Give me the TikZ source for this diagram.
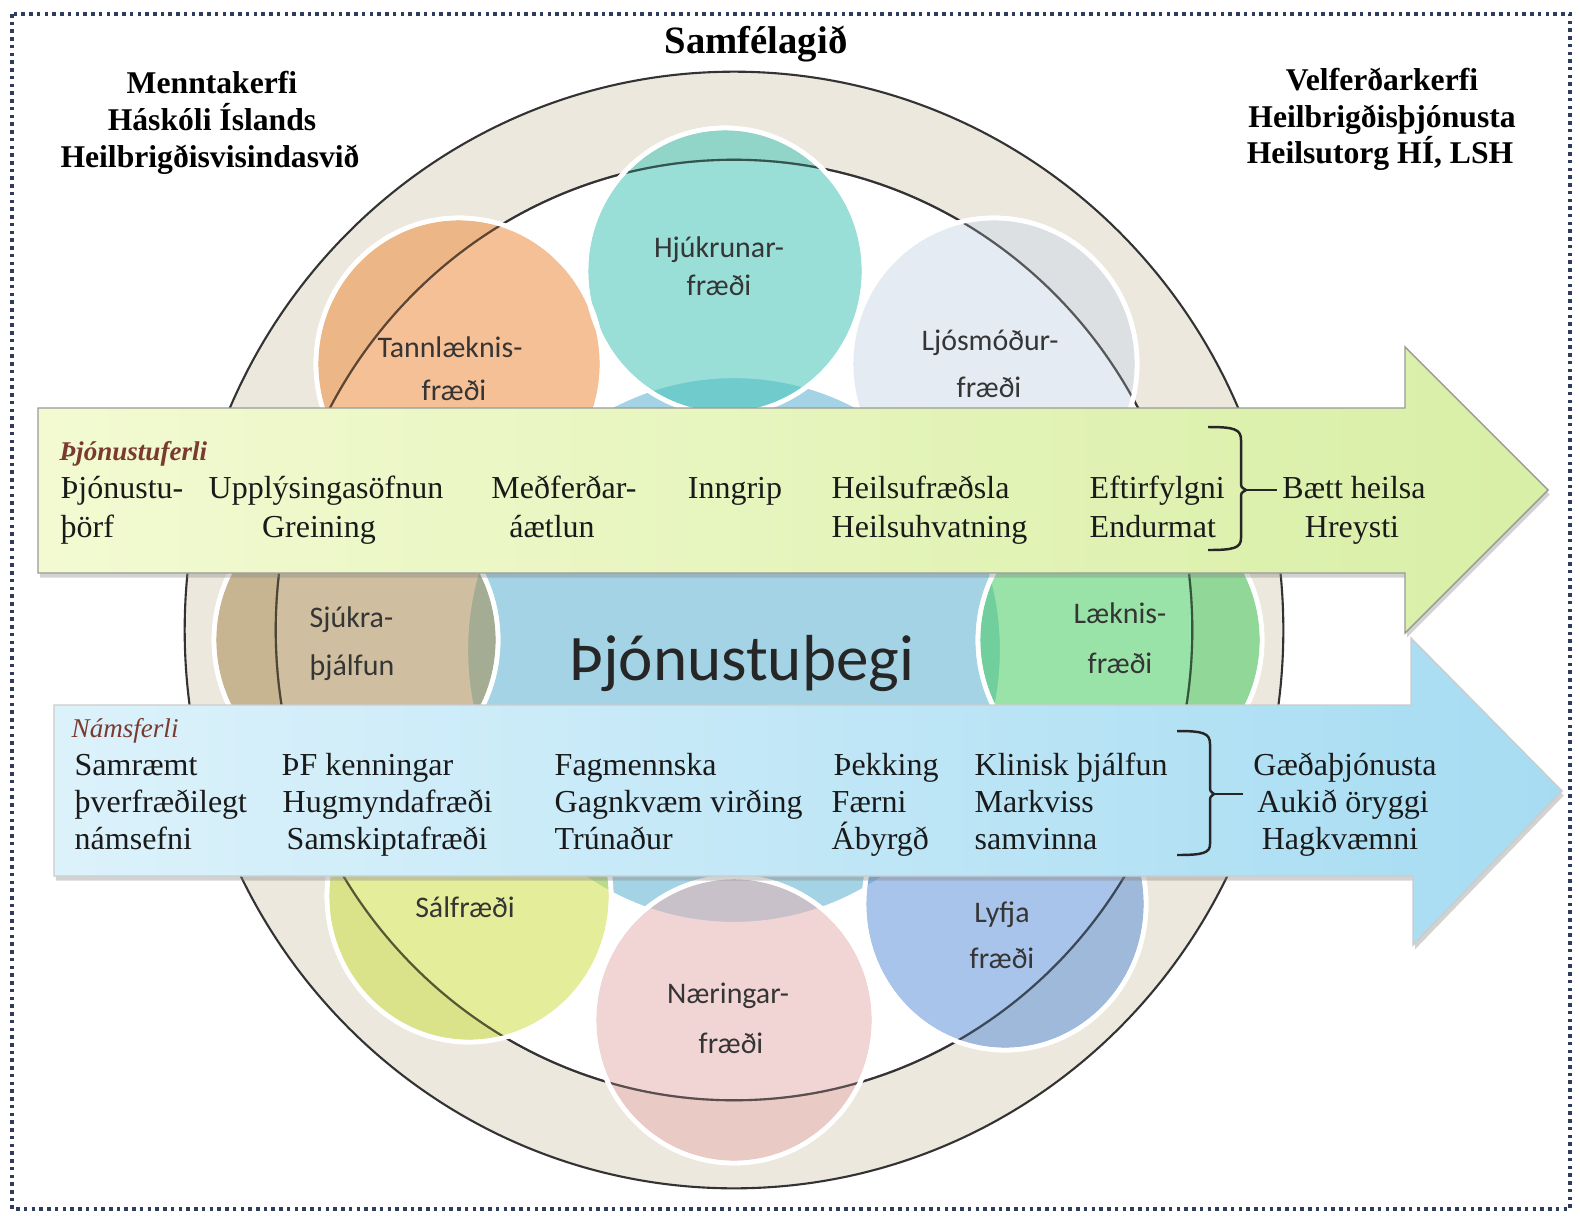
\documentclass[tikz,border=0pt]{standalone}
\usepackage{fontspec}
\setmainfont{Liberation Serif}
\newfontfamily\calfont{Carlito}
\usetikzlibrary{shadows}
\definecolor{framecol}{HTML}{2F3D5C}
\definecolor{ringfill}{HTML}{ECE8DD}
\definecolor{cHjuk}{HTML}{47C5B8}
\definecolor{cTann}{HTML}{ED8E40}
\definecolor{cLjos}{HTML}{D1DBE9}
\definecolor{cSjuk}{HTML}{A88C52}
\definecolor{cLaek}{HTML}{47CC61}
\definecolor{cSalf}{HTML}{CEE047}
\definecolor{cNaer}{HTML}{E7B3B3}
\definecolor{cLyfj}{HTML}{6194D9}
\definecolor{cCent}{HTML}{58AFD1}
\definecolor{greenL}{HTML}{F3FAD2}
\definecolor{greenR}{HTML}{D8EFA6}
\definecolor{blueL}{HTML}{DCF2FB}
\definecolor{blueR}{HTML}{A6DCF2}
\definecolor{txt}{HTML}{1A1A1A}
\definecolor{lbltxt}{HTML}{353535}
\definecolor{subred}{HTML}{7B3A30}
\begin{document}
\begin{tikzpicture}[x=0.01cm,y=-0.01cm,
  hdr/.style={font=\bfseries\fontsize{9}{10}\selectfont, inner sep=0pt, anchor=base, text=black},
  bodyl/.style={font=\fontsize{9.1}{10}\selectfont, inner sep=0pt, anchor=base west, text=txt},
  bodyc/.style={bodyl, anchor=base},
  lbl/.style={font=\calfont\fontsize{8.5}{10}\selectfont, inner sep=0pt, anchor=base, text=lbltxt},
  lbll/.style={lbl, anchor=base west},
  subt/.style={font=\itshape\fontsize{7.7}{9}\selectfont, inner sep=0pt, anchor=base west, text=subred},
  satfill/.style={fill opacity=0.55},
  satrim/.style={draw=white, line width=1.3pt},
  ringline/.style={draw=black!80, line width=0.6pt},
  arrowshape/.style={draw=black!40, line width=0.4pt, drop shadow={shadow xshift=0.5pt, shadow yshift=-1.3pt, opacity=0.35}},
  bracepath/.style={draw=black!85, line width=0.7pt},
  framebox/.style={draw=framecol, line width=1pt, dash pattern=on 1pt off 1.2pt}
]
\useasboundingbox[fill=white] (0,0) rectangle (1580,1215);
% frame
\draw[framebox] (12,14) rectangle (1570,1209);
% society ring
\draw[ringline, fill=ringfill] (734,630) ellipse [x radius=5.49cm, y radius=5.58cm];
\draw[ringline, fill=white] (734,630) ellipse [x radius=4.58cm, y radius=4.70cm];
% central circle
\path[satfill, fill=cCent] (734,650) ellipse [x radius=2.68cm, y radius=2.74cm];
\path[satrim] (734,650) ellipse [x radius=2.68cm, y radius=2.74cm];
% satellites: fills
\foreach \cx/\cy/\rx/\ry/\col in {725/271/1.39/1.43/cHjuk, 459/364/1.43/1.46/cTann, 994/364/1.43/1.46/cLjos,
  356/640/1.42/1.46/cSjuk, 1120/640/1.42/1.46/cLaek, 469/896/1.42/1.46/cSalf,
  1005/904/1.41/1.46/cLyfj, 734/1020/1.40/1.43/cNaer}
  {\path[satfill, fill=\col] (\cx,\cy) ellipse [x radius=\rx cm, y radius=\ry cm];
   \path[satrim] (\cx,\cy) ellipse [x radius=\rx cm, y radius=\ry cm];}
% inner ring line seen through circles
\draw[ringline, draw opacity=0.6] (734,630) ellipse [x radius=4.58cm, y radius=4.70cm];
% white rims on top
\foreach \cx/\cy/\rx/\ry in {725/271/1.39/1.43, 459/364/1.43/1.46, 994/364/1.43/1.46,
  356/640/1.42/1.46, 1120/640/1.42/1.46, 469/896/1.42/1.46,
  1005/904/1.41/1.46, 734/1020/1.40/1.43}
  {\path[satrim] (\cx,\cy) ellipse [x radius=\rx cm, y radius=\ry cm];}
% circle labels
\node[lbl] (hj1) at (719,257) {Hjúkrunar-};
\node[lbl] (hj2) at (719,295) {fræði};
\node[lbl] (ta1) at (450,357) {Tannlæknis-};
\node[lbl] (ta2) at (454,400) {fræði};
\node[lbl] (lj1) at (990,350) {Ljósmóður-};
\node[lbl] (lj2) at (989,397) {fræði};
\node[lbll] (sj1) at (309,627) {Sjúkra-};
\node[lbll] (sj2) at (309,675) {þjálfun};
\node[lbl] (la1) at (1120,623) {Læknis-};
\node[lbl] (la2) at (1120,673) {fræði};
\node[lbl] (sa1) at (465,917) {Sálfræði};
\node[lbl] (na1) at (728,1003) {Næringar-};
\node[lbl] (na2) at (731,1053) {fræði};
\node[lbl] (ly1) at (1002,922) {Lyfja};
\node[lbl] (ly2) at (1002,968) {fræði};
\node[font=\calfont\fontsize{18.5}{20}\selectfont, inner sep=0pt, anchor=base, text=black!85] (thegi) at (742,680) {Þjónustuþegi};
% arrows
\path[arrowshape, left color=greenL, right color=greenR]
  (38,408) -- (1405,408) -- (1405,347) -- (1548,490) -- (1405,633) -- (1405,573) -- (38,573) -- cycle;
\path[arrowshape, draw=black!20, left color=blueL, right color=blueR]
  (54,705) -- (1411,705) -- (1411,638) -- (1562,791) -- (1413,945) -- (1413,876) -- (54,876) -- cycle;
% titles
\node[font=\bfseries\fontsize{11}{12}\selectfont, inner sep=0pt, anchor=base] (samf) at (756,53) {Samfélagið};
\node[hdr] (l1) at (212,93) {Menntakerfi};
\node[hdr] (l2) at (212,130) {Háskóli Íslands};
\node[hdr] (l3) at (210,167) {Heilbrigðisvisindasvið};
\node[hdr] (r1) at (1382,90) {Velferðarkerfi};
\node[hdr] (r2) at (1382,127) {Heilbrigðisþjónusta};
\node[hdr] (r3) at (1380,163) {Heilsutorg HÍ, LSH};
% upper arrow text
\node[subt, font=\bfseries\itshape\fontsize{7.7}{9}\selectfont] (pf) at (59,460) {Þjónustuferli};
\node[bodyl] (u11) at (60,498) {Þjónustu-};
\node[bodyl] (u12) at (60,537) {þörf};
\node[bodyc] (u21) at (326,498) {Upplýsingasöfnun};
\node[bodyc] (u22) at (319,537) {Greining};
\node[bodyc] (u31) at (564,498) {Meðferðar-};
\node[bodyc] (u32) at (552,537) {áætlun};
\node[bodyc] (u41) at (735,498) {Inngrip};
\node[bodyl] (u51) at (831,498) {Heilsufræðsla};
\node[bodyl] (u52) at (831,537) {Heilsuhvatning};
\node[bodyl] (u61) at (1089,498) {Eftirfylgni};
\node[bodyl] (u62) at (1089,537) {Endurmat};
\node[bodyc] (u71) at (1354,498) {Bætt heilsa};
\node[bodyc] (u72) at (1352,537) {Hreysti};
% upper brace
\coordinate (ubtip) at (1246,490);
\coordinate (ubend) at (1277,490);
\draw[bracepath] (1208,427) .. controls (1234,427) and (1241,429) .. (1241,440) -- (1241,482)
  .. controls (1241,487) .. (ubtip) .. controls (1241,493) .. (1241,498) -- (1241,538)
  .. controls (1241,548) and (1234,550) .. (1208,550);
\draw[bracepath] (ubtip) -- (ubend);
% lower arrow text
\node[subt] (nf) at (71,737) {Námsferli};
\node[bodyl] (d11) at (74,775) {Samræmt};
\node[bodyl] (d12) at (74,812) {þverfræðilegt};
\node[bodyl] (d13) at (74,849) {námsefni};
\node[bodyl] (d21) at (281,775) {ÞF kenningar};
\node[bodyl] (d22) at (282,812) {Hugmyndafræði};
\node[bodyl] (d23) at (286,849) {Samskiptafræði};
\node[bodyl] (d31) at (554,775) {Fagmennska};
\node[bodyl] (d32) at (554,812) {Gagnkvæm virðing};
\node[bodyl] (d33) at (554,849) {Trúnaður};
\node[bodyl] (d41) at (833,775) {Þekking};
\node[bodyl] (d42) at (831,812) {Færni};
\node[bodyl] (d43) at (831,849) {Ábyrgð};
\node[bodyl] (d51) at (974,775) {Klinisk þjálfun};
\node[bodyl] (d52) at (974,812) {Markviss};
\node[bodyl] (d53) at (974,849) {samvinna};
\node[bodyc] (d61) at (1345,775) {Gæðaþjónusta};
\node[bodyc] (d62) at (1343,812) {Aukið öryggi};
\node[bodyc] (d63) at (1340,849) {Hagkvæmni};
% lower brace
\coordinate (dbtip) at (1214,794);
\coordinate (dbend) at (1243,794);
\draw[bracepath] (1177,731) .. controls (1203,731) and (1210,733) .. (1210,744) -- (1210,786)
  .. controls (1210,791) .. (dbtip) .. controls (1210,797) .. (1210,802) -- (1210,844)
  .. controls (1210,853) and (1203,855) .. (1177,855);
\draw[bracepath] (dbtip) -- (dbend);
\end{tikzpicture}
\end{document}
